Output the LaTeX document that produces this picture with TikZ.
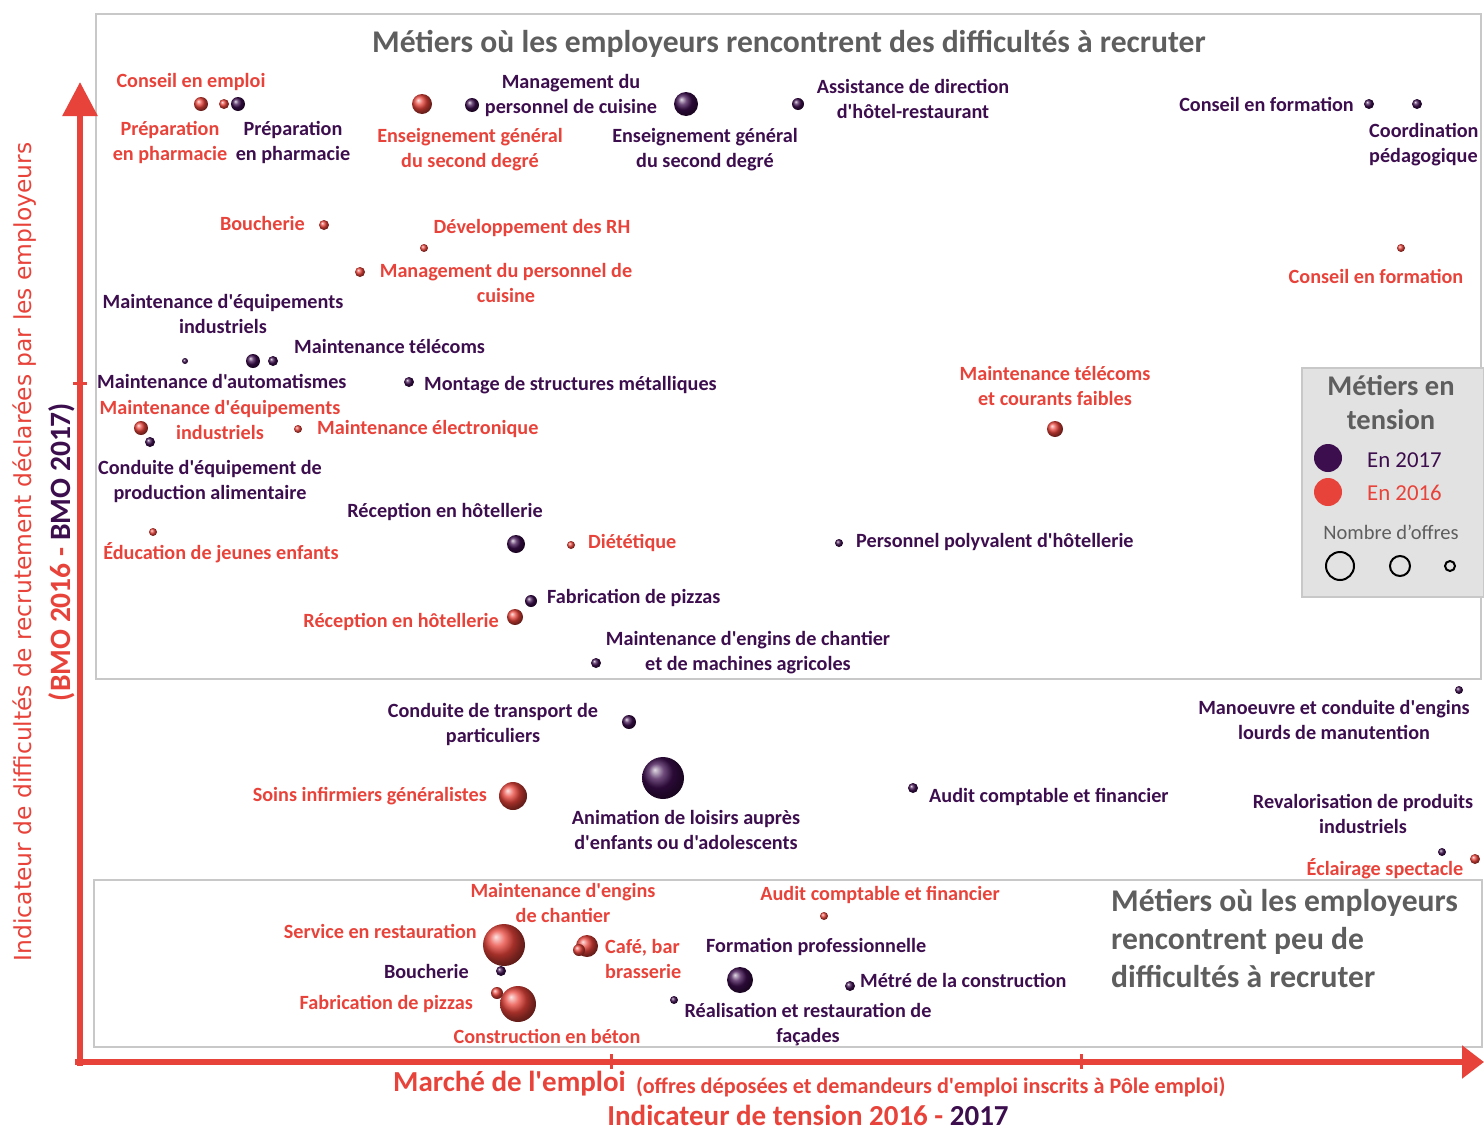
\documentclass[tikz,border=0pt]{standalone}
\usepackage{fontspec}
\setmainfont{Carlito}[Ligatures=TeXOff]
\newfontfamily\axefont{DejaVu Sans}
\usetikzlibrary{arrows.meta}
\definecolor{bmorouge}{HTML}{E8433A}
\definecolor{bmoviolet}{HTML}{3D0E4E}
\definecolor{cadre}{HTML}{C8C8C8}
\definecolor{gristitre}{HTML}{5E5E5E}
\definecolor{fondleg}{HTML}{E2E2E2}

\begin{document}
\begin{tikzpicture}[x=1pt, y=-1pt,
        lab/.style={font=\bfseries\fontsize{20.2}{25}\selectfont, inner sep=0, align=center},
        lr/.style={lab, text=bmorouge},
        lp/.style={lab, text=bmoviolet},
        rb/.style={circle, inner sep=0, minimum size=#1, ball color=bmorouge},
        pb/.style={circle, inner sep=0, minimum size=#1, ball color=bmoviolet},
        zone/.style={draw=cadre, line width=2pt},
        axe/.style={draw=bmorouge, line width=6pt},
        titre/.style={font=\bfseries\fontsize{31.6}{38}\selectfont, text=gristitre, inner sep=0}]
        \useasboundingbox (0,0) rectangle (1484,1130);

        \draw[zone] (96,14) rectangle (1481,679);
        \draw[zone] (94,880) rectangle (1482,1047);
        \node[titre] (T1) at (789,44) {Métiers où les employeurs rencontrent des difficultés à recruter};
        \node[titre, anchor=west, align=left] (T2) at (1111,938) {Métiers où les employeurs\\rencontrent peu de\\difficultés à recruter};

        \coordinate (Ybas) at (80,1066);
        \coordinate (Yhaut) at (80,82);
        \coordinate (Xgauche) at (75,1062);
        \coordinate (Xdroite) at (1484,1062);
        \draw[axe, -{Triangle[length=34pt,width=34pt]}] (Ybas) -- (Yhaut);
        \draw[axe, -{Triangle[length=22pt,width=32pt]}] (Xgauche) -- (Xdroite);
        \draw[bmorouge, line width=3pt] (73,383) -- (87,383);
        \foreach \tx in {611,1081}
                \draw[bmorouge, line width=3pt] (\tx,1054) -- (\tx,1069);

        \node[rotate=90, text=bmorouge, font=\axefont\fontsize{23.4}{26}\selectfont, inner sep=0] (Ylab) at (25,552) {Indicateur de difficultés de recrutement déclarées par les employeurs};
        \node[rotate=90, text=bmorouge, font=\bfseries\fontsize{29.5}{32}\selectfont, inner sep=0] (Ybmo) at (62,552) {(BMO 2016 - \textcolor{bmoviolet}{BMO 2017)}};
        \node[anchor=west, text=bmorouge, font=\bfseries\fontsize{29}{32}\selectfont, inner sep=0] (Xlab) at (393,1084) {Marché de l'emploi};
        \node[anchor=west, text=bmorouge, font=\bfseries\fontsize{22.2}{24}\selectfont, inner sep=0] (Xsub) at (636,1087) {(offres déposées et demandeurs d'emploi inscrits à Pôle emploi)};
        \node[text=bmorouge, font=\bfseries\fontsize{29}{32}\selectfont, inner sep=0] (Xtens) at (808,1115) {Indicateur de tension 2016 - \textcolor{bmoviolet}{2017}};

        \begin{scope}
                \draw[cadre, line width=2pt, fill=fondleg] (1302,368) rectangle (1484,597);
                \node[font=\bfseries\fontsize{28.5}{34}\selectfont, text=gristitre, align=center, inner sep=0] (Ltit) at (1391,403) {Métiers en\\tension};
                \node[circle, fill=bmoviolet, minimum size=28pt, inner sep=0] (L17) at (1328,458) {};
                \node[circle, fill=bmorouge, minimum size=28pt, inner sep=0] (L16) at (1328,492) {};
                \node[anchor=west, text=bmoviolet, font=\fontsize{22.8}{24}\selectfont, inner sep=0] (T17) at (1367,460) {En 2017};
                \node[anchor=west, text=bmorouge, font=\fontsize{22.8}{24}\selectfont, inner sep=0] (T16) at (1367,493) {En 2016};
                \node[text=gristitre, font=\fontsize{20.5}{22}\selectfont, inner sep=0] (Tnb) at (1391,532) {Nombre d’offres};
                \node[circle, draw, line width=2pt, minimum size=28pt, inner sep=0] (C1) at (1340,566) {};
                \node[circle, draw, line width=2pt, minimum size=20pt, inner sep=0] (C2) at (1400,566) {};
                \node[circle, draw, line width=2pt, minimum size=10pt, inner sep=0] (C3) at (1450,566) {};
        \end{scope}

        \node[rb=14] (ce1) at (201,104) {};
        \node[rb=10] (ce2) at (224,104) {};
        \node[pb=14] (pp1) at (238,104) {};
        \node[lr] (tce) at (191,82) {Conseil en emploi};
        \node[lr] (tpr) at (170,142) {Préparation\\en pharmacie};
        \node[lp] (tpp) at (293,142) {Préparation\\en pharmacie};
        \node[rb=20] (eg1) at (422,104) {};
        \node[pb=14] (mp1) at (472,105) {};
        \node[lp] (tmp) at (571,95) {Management du\\personnel de cuisine};
        \node[pb=24] (eg2) at (686,104) {};
        \node[lr] (teg1) at (470,150) {Enseignement général\\du second degré};
        \node[lp] (teg2) at (705,150) {Enseignement général\\du second degré};
        \node[pb=12] (ad) at (798,104) {};
        \node[lp] (tad) at (913,99) {Assistance de direction\\d'hôtel-restaurant};
        \node[lp, anchor=east] (tcf) at (1354,104) {Conseil en formation};
        \node[pb=10] (cf1) at (1369,104) {};
        \node[pb=10] (cp) at (1417,104) {};
        \node[lp, anchor=west, align=left] (tcp) at (1369,145) {Coordination\\pédagogique};
        \node[rb=8] (cf2) at (1401,248) {};
        \node[lr] (tcf2) at (1376,276) {Conseil en formation};

        \node[lr, anchor=east] (tbo) at (305,223) {Boucherie};
        \node[rb=10] (bo) at (324,225) {};
        \node[lr] (tdr) at (532,228) {Développement des RH};
        \node[rb=8] (dr) at (424,248) {};
        \node[rb=10] (mc) at (360,272) {};
        \node[lr] (tmc) at (506,283) {Management du personnel de\\cuisine};
        \node[lp] (tme) at (223,314) {Maintenance d'équipements\\industriels};
        \node[pb=6] (ma) at (185,361) {};
        \node[pb=14] (mt1) at (253,361) {};
        \node[pb=10] (mt2) at (273,361) {};
        \node[lp, anchor=west] (tmt) at (294,346) {Maintenance télécoms};
        \node[lp, anchor=west] (tma) at (97,381) {Maintenance d'automatismes};
        \node[pb=10] (ms) at (409,382) {};
        \node[lp, anchor=west] (tms) at (424,385) {Montage de structures métalliques};
        \node[lr] (tme2) at (220,420) {Maintenance d'équipements\\industriels};
        \node[rb=14] (me2) at (141,428) {};
        \node[pb=10] (cq) at (150,442) {};
        \node[rb=8] (mel) at (298,429) {};
        \node[lr, anchor=west] (tmel) at (317,429) {Maintenance électronique};
        \node[lp] (tcq) at (210,481) {Conduite d'équipement de\\production alimentaire};
        \node[rb=8] (ej) at (153,532) {};
        \node[lr] (tej) at (221,553) {Éducation de jeunes enfants};
        \node[lp] (trh) at (445,512) {Réception en hôtellerie};
        \node[pb=18] (rh) at (516,544) {};
        \node[rb=8] (di) at (571,545) {};
        \node[lr, anchor=west] (tdi) at (588,543) {Diététique};
        \node[pb=8] (ph) at (839,543) {};
        \node[lp, anchor=west] (tph) at (856,542) {Personnel polyvalent d'hôtellerie};
        \node[lr] (tmtc) at (1055,386) {Maintenance télécoms\\et courants faibles};
        \node[rb=16] (mtc) at (1055,429) {};
        \node[pb=12] (fp) at (531,601) {};
        \node[lp, anchor=west] (tfp) at (547,598) {Fabrication de pizzas};
        \node[lr, anchor=east] (trh2) at (499,622) {Réception en hôtellerie};
        \node[rb=16] (rh2) at (515,617) {};
        \node[lp] (tmec) at (748,653) {Maintenance d'engins de chantier\\et de machines agricoles};
        \node[pb=10] (mec) at (596,663) {};

        \node[pb=8] (mcl) at (1459,690) {};
        \node[lp] (tmcl) at (1334,720) {Manoeuvre et conduite d'engins\\lourds de manutention};
        \node[lp] (tct) at (493,724) {Conduite de transport de\\particuliers};
        \node[pb=14] (ct) at (629,722) {};
        \node[pb=42] (al) at (663,778) {};
        \node[lp] (tal) at (686,830) {Animation de loisirs auprès\\d'enfants ou d'adolescents};
        \node[lr, anchor=east] (tsi) at (487,796) {Soins infirmiers généralistes};
        \node[rb=28] (si) at (513,796) {};
        \node[pb=10] (ac) at (913,788) {};
        \node[lp, anchor=west] (tac) at (929,797) {Audit comptable et financier};
        \node[lp] (trp) at (1363,814) {Revalorisation de produits\\industriels};
        \node[pb=8] (rp) at (1442,852) {};
        \node[rb=10] (es) at (1475,859) {};
        \node[lr] (tes) at (1385,869) {Éclairage spectacle};

        \node[lr] (tmg) at (563,903) {Maintenance d'engins\\de chantier};
        \node[lr, anchor=east] (tsr) at (477,931) {Service en restauration};
        \node[rb=42] (sr) at (504,945) {};
        \node[rb=22] (cb2) at (587,946) {};
        \node[rb=12] (cb1) at (579,950) {};
        \node[lr, anchor=west, align=left] (tcb) at (605,959) {Café, bar\\brasserie};
        \node[lp, anchor=east] (tbo2) at (469,971) {Boucherie};
        \node[pb=10] (bo2) at (501,971) {};
        \node[rb=36] (fz) at (518,1004) {};
        \node[rb=12] (mg) at (497,993) {};
        \node[lr, anchor=east] (tfz) at (473,1004) {Fabrication de pizzas};
        \node[lr] (tcbe) at (547,1036) {Construction en béton};
        \node[lr] (tacf) at (880,895) {Audit comptable et financier};
        \node[rb=8] (acf) at (824,916) {};
        \node[lp, anchor=west] (tfo) at (706,947) {Formation professionnelle};
        \node[pb=26] (fo) at (740,980) {};
        \node[pb=10] (mm) at (850,986) {};
        \node[lp, anchor=west] (tmm) at (860,980) {Métré de la construction};
        \node[pb=8] (rf) at (674,1000) {};
        \node[lp] (trf) at (808,1025) {Réalisation et restauration de\\façades};
\end{tikzpicture}
\end{document}
